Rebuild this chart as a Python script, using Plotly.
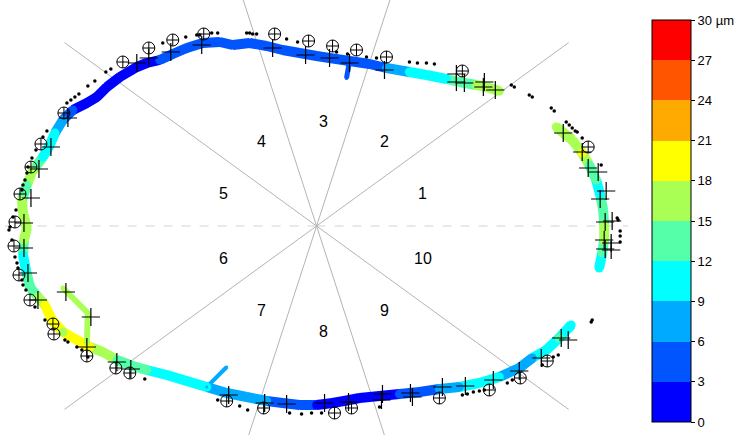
import math
import plotly.graph_objects as go

# ---------------- data (image-plane units, y grows downward) ----------------
centre_x, centre_y = 317, 226
sector_labels = ["1", "2", "3", "4", "5", "6", "7", "8", "9", "10"]

# main thickness band (lower-right end -> bottom -> left -> top -> upper-right end)
band1_x = [572, 560, 547, 533, 520, 500, 480, 460, 440, 420, 400, 380, 360, 350, 333, 317,
           300, 283, 267, 247, 227, 207, 187, 167, 147, 133, 117, 103, 90, 77, 63, 52, 45,
           38, 30, 26, 23, 24, 27, 23, 22, 27, 32, 37, 43, 50, 55, 63, 73, 87, 97, 107, 120,
           137, 147, 160, 173, 187, 203, 220, 233, 250, 267, 283, 300, 317, 330, 350, 370,
           387, 410, 427, 447, 460, 477, 487, 500]
band1_y = [325, 338, 350, 358, 368, 377, 383, 387, 389, 392, 394, 396, 398, 400, 403, 405,
           405, 403, 401, 397, 393, 387, 381, 375, 370, 366, 360, 352, 347, 340, 332, 320, 305,
           297, 287, 270, 255, 240, 228, 213, 200, 185, 172, 165, 157, 145, 133, 120, 110, 103,
           97, 87, 77, 67, 63, 60, 54, 48, 43, 42, 45, 43, 46, 50, 53, 56, 58, 61, 64,
           68, 72, 75, 79, 82, 85, 87, 91]
band1_v = [11, 12, 10, 8, 6, 9, 10, 8, 6, 5, 3, 2, 2, 2, 2, 2,
           4, 5, 6, 7, 8, 9, 10, 11, 12, 13, 14, 16, 18, 19, 17, 19, 19,
           16, 13, 11, 11, 15, 16, 16, 15, 14, 16, 14, 11, 10, 9, 7, 4, 1,
           1, 1, 1, 1, 2, 3, 5, 5, 5, 5, 3, 4, 4, 4, 5, 4, 4, 3, 4,
           6, 9, 10, 11, 13, 15, 16, 16]

# right-hand band piece
band2_x = [557, 573, 583, 590, 597, 601, 604, 605, 605, 603, 600]
band2_y = [127, 140, 153, 165, 180, 195, 210, 225, 240, 253, 268]
band2_v = [16, 16, 18, 14, 12, 11, 13, 15, 16, 12, 11]

# side branches
spur_left_x, spur_left_y, spur_left_v = [63, 88, 87], [288, 313, 343], [16, 16, 16]
spur_bottom_x, spur_bottom_y, spur_bottom_v = [227, 207], [367, 387], [7, 7]
spur_top_x, spur_top_y, spur_top_v = [347, 350], [78, 61], [4, 4]

# circled-cross markers
cp_x = [41, 31, 20, 15, 14, 19, 30, 53, 54, 87, 116, 130, 227, 264, 335, 352, 440, 490, 521,
        548, 589, 463, 387, 357, 333, 309, 275, 204, 173, 149, 123, 64]
cp_y = [144, 167, 194, 222, 246, 275, 300, 324, 334, 356, 368, 373, 401, 408, 413, 408, 398,
        390, 378, 361, 147, 71, 57, 50, 46, 41, 34, 34, 40, 48, 62, 113]

# plus markers
pl_x = [51, 39, 31, 24, 24, 28, 38, 66, 91, 87, 117, 68, 137, 149, 171, 202, 273, 306, 330,
        350, 385, 131, 229, 265, 287, 325, 349, 457, 457, 465, 485, 484, 496, 564, 583, 589,
        599, 607, 601, 606, 613, 605, 612, 606, 612, 562, 569, 542, 520, 494, 466, 443, 411,
        383, 413, 382]
pl_y = [147, 169, 198, 223, 248, 273, 300, 292, 317, 347, 362, 118, 63, 58, 52, 45, 48, 55, 58,
        63, 70, 369, 395, 403, 404, 403, 402, 74, 82, 83, 82, 87, 90, 133, 152, 168,
        172, 191, 199, 222, 221, 240, 243, 249, 250, 338, 340, 358, 371, 380, 386, 387, 393,
        394, 397, 400]

# small black dots
dot_x = [47, 43, 36, 32, 28, 27, 25, 23, 22, 16, 13, 10, 9, 12, 15, 17, 18, 22, 23, 26, 35,
         45, 65, 68, 77, 82, 88, 67, 71, 75, 79, 88, 95, 106, 111, 163, 186, 197, 200, 212,
         218, 247, 250, 253, 257, 287, 298, 337, 348, 367, 377, 410, 418, 427, 435, 512, 515,
         530, 533, 552, 555, 567, 570, 573, 576, 578, 583, 602, 618, 619, 621, 621, 621, 592,
         593, 559, 554, 543, 508, 513, 463, 468, 474, 480, 485, 380, 145, 218, 240, 248, 290,
         302, 312, 322]
dot_y = [131, 137, 150, 158, 167, 173, 180, 185, 190, 210, 217, 227, 230, 240, 257, 263, 268,
         280, 285, 290, 307, 320, 340, 342, 347, 350, 357, 103, 100, 97, 94, 86, 81, 72, 69,
         43, 37, 35, 35, 33, 33, 33, 33, 34, 34, 39, 42, 52, 54, 57, 58, 62, 63, 63, 64, 85,
         87, 95, 97, 108, 111, 122, 125, 128, 131, 132, 138, 165, 218, 220, 231, 236, 242,
         322, 320, 355, 357, 365, 383, 380, 395, 394, 392, 391, 390, 407, 379, 400, 406, 410,
         413, 414, 413, 413]

colorbar_ticks = [0, 3, 6, 9, 12, 15, 18, 21, 24, 27, 30]
colorbar_ticktext = ["0", "3", "6", "9", "12", "15", "18", "21", "24", "27", "30 µm"]
level_colors = ["#0000FF", "#0055FF", "#00AAFF", "#00FFFF", "#55FFAA",
                "#AAFF55", "#FFFF00", "#FFAA00", "#FF5500", "#FF0000"]

# ---------------- figure ----------------
VMIN, VMAX = 0, 30
nb = len(level_colors)
colorscale = []
for i, c in enumerate(level_colors):
    colorscale.append([i / nb, c])
    colorscale.append([(i + 1) / nb, c])


def level_colour(v):
    i = int((v - VMIN) / (VMAX - VMIN) * nb)
    return level_colors[max(0, min(nb - 1, i))]


fig = go.Figure()

# radial sector lines
R = 312
for k in range(10):
    a = math.radians(k * 36)
    horiz = k in (0, 5)
    fig.add_trace(go.Scatter(
        x=[centre_x, centre_x + R * math.cos(a)],
        y=[centre_y, centre_y - R * math.sin(a)],
        mode="lines", hoverinfo="skip", showlegend=False,
        line=dict(color="#d4d4d4" if horiz else "#b4b4b4", width=1,
                  dash="dash" if horiz else "solid")))

pieces = [(band1_x, band1_y, band1_v, 10), (band2_x, band2_y, band2_v, 10),
          (spur_left_x, spur_left_y, spur_left_v, 6),
          (spur_bottom_x, spur_bottom_y, spur_bottom_v, 4),
          (spur_top_x, spur_top_y, spur_top_v, 5)]
for xs, ys, vs, w in pieces:
    for i in range(len(xs) - 1):
        fig.add_trace(go.Scatter(
            x=[xs[i], xs[i + 1]], y=[ys[i], ys[i + 1]], mode="lines",
            line=dict(color=level_colour((vs[i] + vs[i + 1]) / 2), width=w),
            hoverinfo="skip", showlegend=False))

for n, (xs, ys, vs, w) in enumerate(pieces):
    fig.add_trace(go.Scatter(
        x=xs, y=ys, mode="markers", showlegend=False,
        marker=dict(size=w - 1, color=vs, colorscale=colorscale, cmin=VMIN, cmax=VMAX,
                    line=dict(width=0), showscale=(n == 0),
                    colorbar=dict(thickness=39, thicknessmode="pixels", len=402,
                                  lenmode="pixels", x=652 / 734, xanchor="left",
                                  y=1 - 221 / 435, yanchor="middle", xpad=0, ypad=0,
                                  outlinecolor="black", outlinewidth=1, ticks="outside",
                                  ticklen=4, tickcolor="black", tickvals=colorbar_ticks,
                                  ticktext=colorbar_ticktext,
                                  tickfont=dict(size=13, family="Liberation Sans, Arial",
                                                color="black")))))

fig.add_trace(go.Scatter(x=dot_x, y=dot_y, mode="markers", showlegend=False,
                         marker=dict(size=3.5, color="black")))
fig.add_trace(go.Scatter(x=cp_x, y=cp_y, mode="markers", showlegend=False,
                         marker=dict(symbol="circle-cross-open", size=12, color="black",
                                     line=dict(width=1, color="black"))))
fig.add_trace(go.Scatter(x=pl_x, y=pl_y, mode="markers", showlegend=False,
                         marker=dict(symbol="cross-thin-open", size=13, color="black",
                                     line=dict(width=1.2, color="black"))))

# sector numbers
LR = 105
for k, lab in enumerate(sector_labels):
    a = math.radians(18 + 36 * k)
    fig.add_annotation(x=centre_x + LR * math.cos(a), y=centre_y - LR * math.sin(a),
                       text=lab, showarrow=False, xanchor="left", yanchor="middle",
                       xshift=-4 if lab == "10" else 0,
                       font=dict(size=16, family="Liberation Sans, Arial", color="black"))

fig.update_layout(
    width=734, height=435, margin=dict(l=0, r=0, t=0, b=0),
    paper_bgcolor="white", plot_bgcolor="white",
    xaxis=dict(domain=[0, 640 / 734], range=[0, 640], visible=False, showgrid=False),
    yaxis=dict(domain=[0, 1], range=[435, 0], visible=False, showgrid=False),
)

fig.write_html("out.html", config={"displayModeBar": False},
               post_script="document.body.style.margin='0px';document.body.style.overflow='hidden';")
